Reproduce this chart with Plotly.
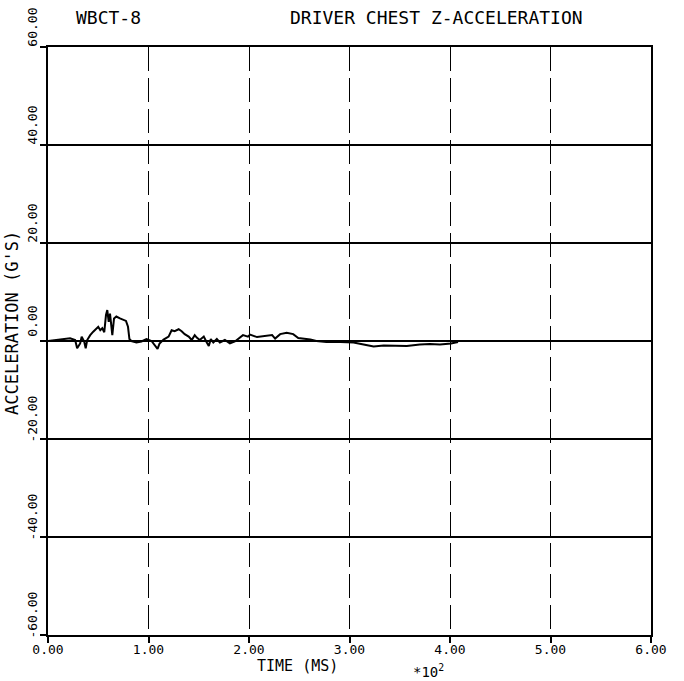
import plotly.graph_objects as go

# Time in units of 100 ms (axis is labelled *10^2 ms)
time_hms = [
    0.00, 0.12, 0.22, 0.27, 0.29, 0.32, 0.335, 0.36, 0.375, 0.39, 0.42, 0.45,
    0.48, 0.50, 0.52, 0.54, 0.56, 0.577, 0.59, 0.604, 0.617, 0.63, 0.64, 0.657,
    0.68, 0.716, 0.75, 0.776, 0.796, 0.81, 0.83, 0.88, 0.93, 0.98, 1.03, 1.065,
    1.09, 1.11, 1.15, 1.20, 1.23, 1.26, 1.30, 1.33, 1.36, 1.40, 1.43, 1.46,
    1.48, 1.51, 1.55, 1.58, 1.60, 1.62, 1.645, 1.68, 1.71, 1.76, 1.81, 1.86,
    1.90, 1.94, 1.99, 2.01, 2.08, 2.16, 2.23, 2.26, 2.31, 2.375, 2.44, 2.49,
    2.54, 2.61, 2.67, 2.77, 2.91, 3.04, 3.14, 3.24, 3.34, 3.44, 3.57, 3.70,
    3.80, 3.90, 4.01, 4.08,
]

# Chest Z acceleration in G's
accel_g = [
    0.0, 0.27, 0.54, 0.2, -1.5, -0.5, 0.9, -0.1, -1.5, 0.2, 1.2, 1.9,
    2.4, 2.9, 2.2, 2.6, 1.8, 5.3, 6.3, 3.9, 5.6, 2.9, 1.2, 4.6,
    5.0, 4.6, 4.3, 4.1, 2.9, 0.4, 0.0, -0.3, -0.1, 0.4, 0.0, -0.8,
    -1.6, -0.5, 0.3, 0.9, 2.2, 2.0, 2.4, 2.0, 1.4, 0.9, 0.2, 1.2,
    0.7, 0.2, 0.9, -0.3, -1.0, 0.4, -0.3, 0.4, -0.3, 0.2, -0.5, -0.1,
    0.5, 1.2, 0.9, 1.3, 0.8, 1.0, 1.2, 0.5, 1.4, 1.7, 1.4, 0.6,
    0.5, 0.3, 0.0, -0.2, -0.2, -0.3, -0.7, -1.1, -0.9, -1.0, -1.0, -0.7,
    -0.6, -0.7, -0.5, -0.2,
]

x_ticks = [0, 1, 2, 3, 4, 5, 6]
x_tick_labels = ["0.00", "1.00", "2.00", "3.00", "4.00", "5.00", "6.00"]
y_ticks = [-60, -40, -20, 0, 20, 40, 60]
y_tick_labels = ["-60.00", "-40.00", "-20.00", "0.00", "20.00", "40.00", "60.00"]

FONT = "DejaVu Sans Mono"

fig = go.Figure()
fig.add_trace(go.Scatter(
    x=time_hms, y=accel_g, mode="lines",
    line=dict(color="black", width=2),
    showlegend=False,
))

fig.update_layout(
    width=684, height=681,
    margin=dict(l=48, r=33, t=47, b=46, autoexpand=False),
    paper_bgcolor="white", plot_bgcolor="white",
    font=dict(family=FONT, color="black", size=13),
)

fig.update_xaxes(
    range=[0, 6], tickvals=x_ticks, ticktext=x_tick_labels,
    showgrid=True, gridcolor="black", gridwidth=1, griddash="24px,7px",
    zeroline=False, automargin=False,
    showline=True, linecolor="black", linewidth=2, mirror=True,
    ticks="outside", ticklen=6, tickwidth=1.5, tickcolor="black",
    ticklabelstandoff=-5,
    tickfont=dict(family=FONT, size=13),
)
fig.update_yaxes(
    range=[-60, 60], tickvals=y_ticks, ticktext=y_tick_labels,
    showgrid=True, gridcolor="black", gridwidth=2,
    zeroline=True, zerolinecolor="black", zerolinewidth=2,
    automargin=False,
    showline=True, linecolor="black", linewidth=2, mirror=True,
    ticks="outside", ticklen=6, tickwidth=1.5, tickcolor="black",
    tickangle=-90, ticklabelshift=-18, ticklabelstandoff=-2,
    tickfont=dict(family=FONT, size=13),
)

plot_w = 684 - 48 - 33
plot_h = 681 - 47 - 46


def px_x(px):
    return (px - 48) / plot_w


def px_y(py):
    return (681 - 46 - py) / plot_h


def label(text, cx, cy, size, angle=0):
    fig.add_annotation(text=text, x=px_x(cx), y=px_y(cy), xref="paper", yref="paper",
                       xanchor="center", yanchor="middle", textangle=angle,
                       showarrow=False, font=dict(family=FONT, size=size))


label("WBCT-8", 108, 18, 18)
label("DRIVER CHEST Z-ACCELERATION", 437, 18, 18)
label("TIME (MS)", 297, 666, 15)
label("*10<sup>2</sup>", 428, 671, 14)
label("ACCELERATION (G'S)", 12, 323, 17, angle=-90)

fig.write_html("out.html")
